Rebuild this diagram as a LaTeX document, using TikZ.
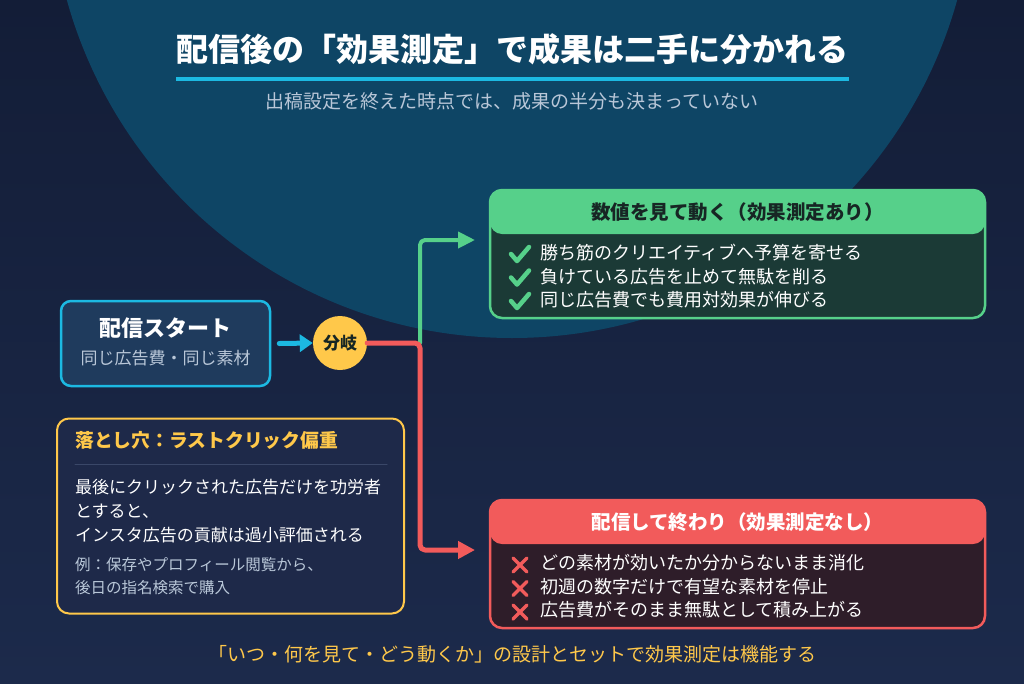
\documentclass[tikz,border=0pt]{standalone}
\usepackage{fontspec}
\setmainfont{Noto Sans CJK JP}
\usepackage{tikz}
\usetikzlibrary{arrows.meta}
\usetikzlibrary{positioning}
\definecolor{bgtop}{HTML}{131D37}
\definecolor{bgbottom}{HTML}{1C2A4B}
\definecolor{moon}{HTML}{0E4565}
\definecolor{skyblue}{HTML}{1CB9E2}
\definecolor{startfill}{HTML}{1F3B5D}
\definecolor{gold}{HTML}{FFC84A}
\definecolor{mint}{HTML}{56D08A}
\definecolor{mintdark}{HTML}{1B3A36}
\definecolor{coral}{HTML}{F25B5B}
\definecolor{coraldark}{HTML}{2E1D29}
\definecolor{panel}{HTML}{1E2949}
\definecolor{rulegray}{HTML}{3A4768}
\definecolor{mist}{HTML}{B9C7D8}
\definecolor{ink}{HTML}{172624}

\begin{document}
\begin{tikzpicture}[x=1pt,y=-1pt,line cap=round,line join=round,
	txt/.style={inner sep=0pt,text=white},
	boxhead/.style={path picture={\fill[#1] (path picture bounding box.north west) rectangle ([yshift=-44pt]path picture bounding box.north east);}},
	resultbox/.style={draw=#1,line width=2.5pt,rounded corners=12pt,minimum width=495pt,minimum height=128pt,boxhead=#1},
	item/.style={txt,anchor=west,font=\fontsize{18}{22}\selectfont},
	head/.style={txt,font=\fontsize{19.5}{23}\selectfont\bfseries}]
	% background and big disc
	\fill[top color=bgtop,bottom color=bgbottom] (0,0) rectangle (1024,683);
	\begin{scope}
		\clip (0,0) rectangle (1024,683);
		\fill[moon] (512,-124) circle (462);
	\end{scope}
	\useasboundingbox (0,0) rectangle (1024,683);
	% title
	\node[txt,font=\fontsize{32}{36}\selectfont\bfseries] (title) at (512,49) {配信後の「効果測定」で成果は二手に分かれる};
	\draw[skyblue,line width=4pt,line cap=butt] (176,79) -- (849,79);
	\node[txt,text=mist,font=\fontsize{19}{22}\selectfont] (subtitle) at (512,101) {出稿設定を終えた時点では、成果の半分も決まっていない};
	% start and branch
	\node[draw=skyblue,line width=2.5pt,fill=startfill,rounded corners=10pt,minimum width=209pt,minimum height=85pt] (start) at (165.5,343.5) {};
	\node[txt,font=\fontsize{22}{25}\selectfont\bfseries] (starthead) at (165.5,328) {配信スタート};
	\node[txt,text=mist,font=\fontsize{17}{20}\selectfont] (startsub) at (165.5,358) {同じ広告費・同じ素材};
	\node[circle,fill=gold,minimum size=54pt,inner sep=0pt,text=ink,font=\fontsize{17}{20}\selectfont\bfseries] (branch) at (340,343) {分岐};
	\draw[skyblue,line width=5pt,-{Triangle[length=13pt,width=17pt]}] ([xshift=8pt]start.east) -- (branch.west);
	% result boxes
	\node[resultbox=mint,fill=mintdark] (good) at (737.5,254) {};
	\node[head,text=ink] (goodhead) at (737.5,212) {数値を見て動く（効果測定あり）};
	\foreach \t [count=\i, evaluate=\i as \y using 253+23.5*(\i-1)] in {勝ち筋のクリエイティブへ予算を寄せる,負けている広告を止めて無駄を削る,同じ広告費でも費用対効果が伸びる}{
		\node[item] (gooditem\i) at (540,\y) {\t};
		\draw[mint,line width=4.5pt] (511,\y+1) -- (517,\y+8) -- (529,\y-6);
	}
	\node[resultbox=coral,fill=coraldark] (bad) at (737.5,564) {};
	\node[head] (badhead) at (737.5,522) {配信して終わり（効果測定なし）};
	\foreach \t [count=\i, evaluate=\i as \y using 563+23.5*(\i-1)] in {どの素材が効いたか分からないまま消化,初週の数字だけで有望な素材を停止,広告費がそのまま無駄として積み上がる}{
		\node[item] (baditem\i) at (540,\y) {\t};
		\draw[coral,line width=3.5pt] (513,\y-5) -- (527,\y+9) (513,\y+9) -- (527,\y-5);
	}
	% branch connectors
	\coordinate (split) at (420,343);
	\coordinate (goodin) at (475,240);
	\coordinate (badin) at (475,550);
	\draw[mint,line width=4pt,rounded corners=5pt,-{Triangle[length=17pt,width=16pt]}] (split) |- (goodin);
	\draw[coral,line width=5pt,rounded corners=5pt,-{Triangle[length=17pt,width=17pt]}] (branch.east) -- (split) |- (badin);
	% pitfall note
	\node[draw=gold,line width=2pt,fill=panel,rounded corners=12pt,minimum width=347pt,minimum height=195pt] (pit) at (230.5,516) {};
	\node[txt,anchor=west,text=gold,font=\fontsize{18.8}{22}\selectfont\bfseries] (pithead) at (75,440) {落とし穴：ラストクリック偏重};
	\draw[rulegray,line width=1pt] (75,464) -- (387,464);
	\node[txt,anchor=west,font=\fontsize{17}{20}\selectfont] (pitline1) at (75,487) {最後にクリックされた広告だけを功労者};
	\node[txt,anchor=west,font=\fontsize{17}{20}\selectfont] (pitline2) at (75,511) {とすると、};
	\node[txt,anchor=west,font=\fontsize{17}{20}\selectfont] (pitline3) at (75,535) {インスタ広告の貢献は過小評価される};
	\node[txt,anchor=west,text=mist,font=\fontsize{15.5}{18}\selectfont] (pitnote1) at (75,565) {例：保存やプロフィール閲覧から、};
	\node[txt,anchor=west,text=mist,font=\fontsize{15.5}{18}\selectfont] (pitnote2) at (75,588) {後日の指名検索で購入};
	% footer
	\node[txt,text=gold,font=\fontsize{19}{22}\selectfont] (footer) at (512,654) {「いつ・何を見て・どう動くか」の設計とセットで効果測定は機能する};
\end{tikzpicture}
\end{document}
